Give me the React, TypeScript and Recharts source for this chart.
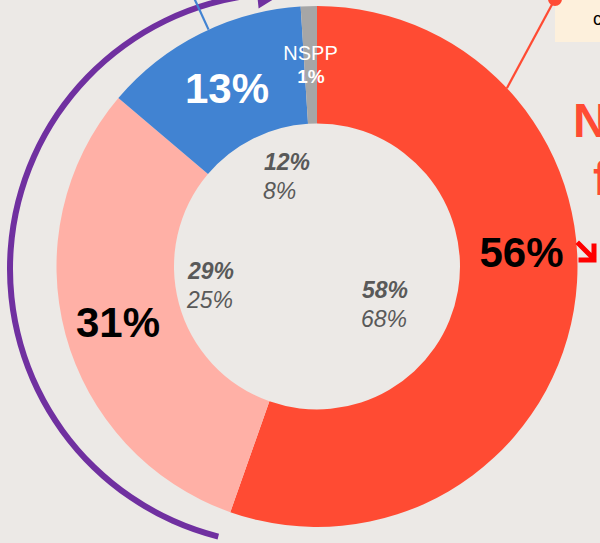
import React from 'react';
import { PieChart, Pie, Cell } from 'recharts';

// ---- data ----
const categories = ['Oui', 'Non', 'Sans avis', 'NSPP'];
const shares = [55.4, 30.8, 12.8, 1.0];
const shareLabels = ['56%', '31%', '13%', '1%'];
const previousA = ['58%', '29%', '12%', ''];
const previousB = ['68%', '25%', '8%', ''];
const sliceColors = ['#FF4B33', '#FFB0A6', '#4183D2', '#A6A6A6'];
const sideTitle = ['Non au', 'financement'];
const boxText = 'commentaire';

const pieData = categories.map((name, i) => ({ name, value: shares[i] }));
const arcData = [{ name: 'bloc', value: 1 }];

// ---- layout ----
const W = 600;
const H = 543;
const CX = 317;
const CY = 266.5;
const FONT = 'Liberation Sans, Arial, Helvetica, sans-serif';
const GREY_TEXT = '#595959';
const RAD = Math.PI / 180;

const bigLabelPos = [
  { x: 521.5, y: 267, fill: '#000' },
  { x: 118, y: 337, fill: '#000' },
  { x: 227, y: 103, fill: '#fff' },
  { x: 311, y: 83, fill: '#fff' },
];
const innerPos = [
  { x: 362, y: 298 },
  { x: 188, y: 279 },
  { x: 264, y: 170 },
  null,
];

const polar = (cx: number, cy: number, r: number, angleDeg: number) => ({
  x: cx + r * Math.cos(-angleDeg * RAD),
  y: cy + r * Math.sin(-angleDeg * RAD),
});

const renderMainLabel = (props: any) => {
  const { index, cx, cy, outerRadius } = props;
  const p = bigLabelPos[index];
  const inner = innerPos[index];
  const out: React.ReactNode[] = [];

  if (index === 0) {
    // red leader line to callout box (top right)
    const s = polar(cx, cy, outerRadius, 90 - 46.8);
    out.push(
      <rect key="box" x={555} y={-10} width={80} height={52} fill="#FDF0DC" />,
      <text key="boxt" x={593} y={25} fontSize={18} fontFamily={FONT} fill="#000">
        {boxText}
      </text>,
      <line key="rl" x1={s.x} y1={s.y} x2={555} y2={-1} stroke="#FF4B33" strokeWidth={2.2} />,
      <circle key="rd" cx={555} cy={-1} r={7} fill="#FF4B33" />,
      <text key="t1" x={573} y={137} fontSize={48} fontWeight="bold" fontFamily={FONT} fill="#FF4B33">
        {sideTitle[0]}
      </text>,
      <text key="t2" x={593} y={195} fontSize={48} fontWeight="bold" fontFamily={FONT} fill="#FF4B33">
        {sideTitle[1]}
      </text>,
      <path
        key="arr"
        d="M579,244 L593,258 M594,246 L594,260 L581,260"
        stroke="#FF0000"
        strokeWidth={5}
        fill="none"
        strokeLinecap="square"
      />
    );
  }
  if (index === 2) {
    const a = 90 - 335.4;
    const s = polar(cx, cy, outerRadius, a);
    const e = polar(cx, cy, outerRadius + 45, a);
    out.push(
      <line key="bl" x1={s.x} y1={s.y} x2={e.x} y2={e.y} stroke="#4183D2" strokeWidth={2.2} />
    );
  }

  if (index === 3) {
    out.push(
      <text key="nspp" x={310.5} y={60} fontSize={20} fontFamily={FONT} fill="#fff" textAnchor="middle">
        {categories[3]}
      </text>,
      <text key="v" x={p.x} y={p.y} fontSize={19} fontWeight="bold" fontFamily={FONT} fill={p.fill} textAnchor="middle">
        {shareLabels[3]}
      </text>
    );
  } else {
    out.push(
      <text key="v" x={p.x} y={p.y} fontSize={42} fontWeight="bold" fontFamily={FONT} fill={p.fill} textAnchor="middle">
        {shareLabels[index]}
      </text>
    );
  }
  if (inner) {
    out.push(
      <text key="ia" x={inner.x} y={inner.y} fontSize={23} fontWeight="bold" fontStyle="italic" fontFamily={FONT} fill={GREY_TEXT}>
        {previousA[index]}
      </text>,
      <text key="ib" x={inner.x - 1} y={inner.y + 29} fontSize={23} fontStyle="italic" fontFamily={FONT} fill={GREY_TEXT}>
        {previousB[index]}
      </text>
    );
  }
  return <g key={`lbl-${index}`}>{out}</g>;
};

const renderArcLabel = (props: any) => {
  const { cx, cy } = props;
  const a = polar(cx, cy, 262, 96);
  const b = polar(cx, cy, 290, 96);
  const t = polar(cx, cy, 276, 90.5);
  return (
    <polygon
      key="arrowhead"
      points={`${a.x},${a.y} ${b.x},${b.y} ${t.x},${t.y}`}
      fill="#7030A0"
    />
  );
};

export default function App() {
  return (
    <div
      style={{
        position: 'absolute',
        left: 0,
        top: 0,
        width: W,
        height: H,
        background: '#ECE9E6',
        overflow: 'hidden',
      }}
    >
      <PieChart width={W} height={H} margin={{ top: 0, right: 0, bottom: 0, left: 0 }}>
        <Pie
          data={arcData}
          dataKey="value"
          cx={286}
          cy={269}
          innerRadius={273}
          outerRadius={279}
          startAngle={96}
          endAngle={255.8}
          stroke="none"
          fill="#7030A0"
          isAnimationActive={false}
          label={renderArcLabel}
          labelLine={false}
        />
        <Pie
          data={pieData}
          dataKey="value"
          nameKey="name"
          cx={CX}
          cy={CY}
          innerRadius={143}
          outerRadius={260.5}
          startAngle={90}
          endAngle={-270}
          stroke="none"
          isAnimationActive={false}
          label={renderMainLabel}
          labelLine={false}
        >
          {pieData.map((d, i) => (
            <Cell key={d.name} fill={sliceColors[i]} />
          ))}
        </Pie>
      </PieChart>
    </div>
  );
}
